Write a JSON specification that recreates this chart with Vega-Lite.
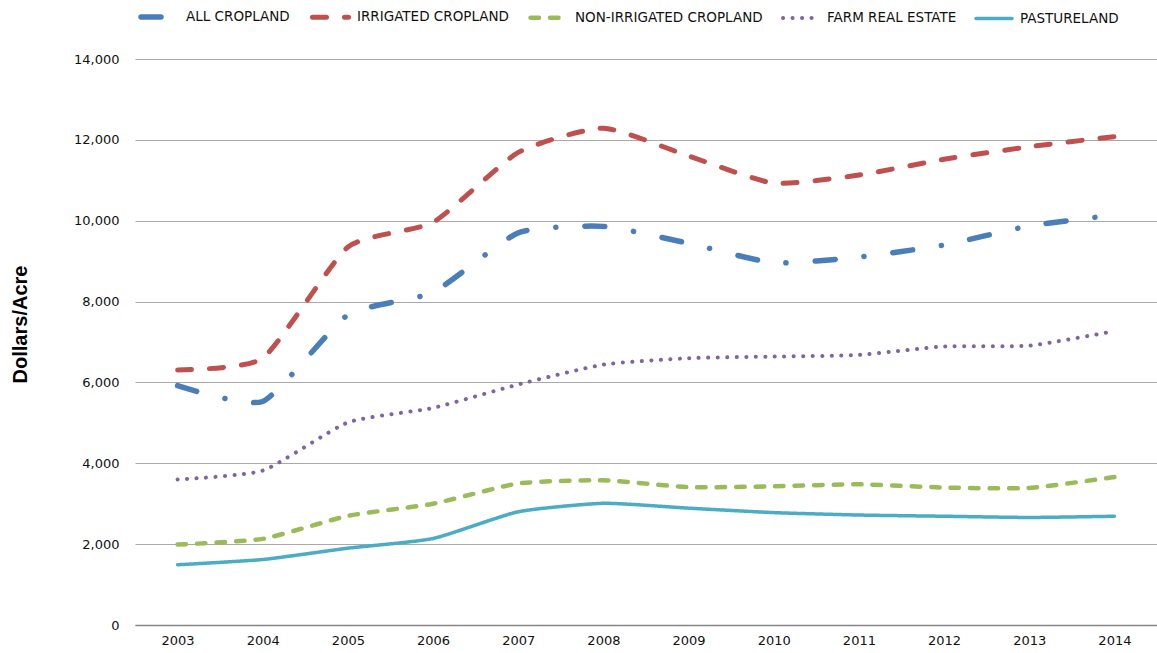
{
  "$schema": "https://vega.github.io/schema/vega-lite/v6.json",
  "autosize": "none",
  "width": 1022,
  "height": 566,
  "padding": {"left": 135, "top": 59, "right": 0, "bottom": 28},
  "background": "white",
  "config": {
    "view": {"stroke": null},
    "font": "DejaVu Sans"
  },
  "data": {
    "values": [
      {"year": "2003", "series": "ALL CROPLAND", "value": 5920},
      {"year": "2004", "series": "ALL CROPLAND", "value": 5530},
      {"year": "2005", "series": "ALL CROPLAND", "value": 7670},
      {"year": "2006", "series": "ALL CROPLAND", "value": 8230},
      {"year": "2007", "series": "ALL CROPLAND", "value": 9700},
      {"year": "2008", "series": "ALL CROPLAND", "value": 9860},
      {"year": "2009", "series": "ALL CROPLAND", "value": 9440},
      {"year": "2010", "series": "ALL CROPLAND", "value": 8960},
      {"year": "2011", "series": "ALL CROPLAND", "value": 9100},
      {"year": "2012", "series": "ALL CROPLAND", "value": 9400},
      {"year": "2013", "series": "ALL CROPLAND", "value": 9870},
      {"year": "2014", "series": "ALL CROPLAND", "value": 10140},
      {"year": "2003", "series": "IRRIGATED CROPLAND", "value": 6310},
      {"year": "2004", "series": "IRRIGATED CROPLAND", "value": 6600},
      {"year": "2005", "series": "IRRIGATED CROPLAND", "value": 9350},
      {"year": "2006", "series": "IRRIGATED CROPLAND", "value": 9960},
      {"year": "2007", "series": "IRRIGATED CROPLAND", "value": 11690},
      {"year": "2008", "series": "IRRIGATED CROPLAND", "value": 12290},
      {"year": "2009", "series": "IRRIGATED CROPLAND", "value": 11600},
      {"year": "2010", "series": "IRRIGATED CROPLAND", "value": 10930},
      {"year": "2011", "series": "IRRIGATED CROPLAND", "value": 11130},
      {"year": "2012", "series": "IRRIGATED CROPLAND", "value": 11520},
      {"year": "2013", "series": "IRRIGATED CROPLAND", "value": 11830},
      {"year": "2014", "series": "IRRIGATED CROPLAND", "value": 12080},
      {"year": "2003", "series": "NON-IRRIGATED CROPLAND", "value": 1990},
      {"year": "2004", "series": "NON-IRRIGATED CROPLAND", "value": 2130},
      {"year": "2005", "series": "NON-IRRIGATED CROPLAND", "value": 2700},
      {"year": "2006", "series": "NON-IRRIGATED CROPLAND", "value": 3000},
      {"year": "2007", "series": "NON-IRRIGATED CROPLAND", "value": 3500},
      {"year": "2008", "series": "NON-IRRIGATED CROPLAND", "value": 3580},
      {"year": "2009", "series": "NON-IRRIGATED CROPLAND", "value": 3410},
      {"year": "2010", "series": "NON-IRRIGATED CROPLAND", "value": 3430},
      {"year": "2011", "series": "NON-IRRIGATED CROPLAND", "value": 3480},
      {"year": "2012", "series": "NON-IRRIGATED CROPLAND", "value": 3400},
      {"year": "2013", "series": "NON-IRRIGATED CROPLAND", "value": 3390},
      {"year": "2014", "series": "NON-IRRIGATED CROPLAND", "value": 3660},
      {"year": "2003", "series": "FARM REAL ESTATE", "value": 3600},
      {"year": "2004", "series": "FARM REAL ESTATE", "value": 3820},
      {"year": "2005", "series": "FARM REAL ESTATE", "value": 5010},
      {"year": "2006", "series": "FARM REAL ESTATE", "value": 5370},
      {"year": "2007", "series": "FARM REAL ESTATE", "value": 5950},
      {"year": "2008", "series": "FARM REAL ESTATE", "value": 6440},
      {"year": "2009", "series": "FARM REAL ESTATE", "value": 6600},
      {"year": "2010", "series": "FARM REAL ESTATE", "value": 6640},
      {"year": "2011", "series": "FARM REAL ESTATE", "value": 6680},
      {"year": "2012", "series": "FARM REAL ESTATE", "value": 6890},
      {"year": "2013", "series": "FARM REAL ESTATE", "value": 6910},
      {"year": "2014", "series": "FARM REAL ESTATE", "value": 7270},
      {"year": "2003", "series": "PASTURELAND", "value": 1490},
      {"year": "2004", "series": "PASTURELAND", "value": 1620},
      {"year": "2005", "series": "PASTURELAND", "value": 1900},
      {"year": "2006", "series": "PASTURELAND", "value": 2140},
      {"year": "2007", "series": "PASTURELAND", "value": 2800},
      {"year": "2008", "series": "PASTURELAND", "value": 3010},
      {"year": "2009", "series": "PASTURELAND", "value": 2890},
      {"year": "2010", "series": "PASTURELAND", "value": 2780},
      {"year": "2011", "series": "PASTURELAND", "value": 2720},
      {"year": "2012", "series": "PASTURELAND", "value": 2690},
      {"year": "2013", "series": "PASTURELAND", "value": 2660},
      {"year": "2014", "series": "PASTURELAND", "value": 2690}
    ]
  },
  "mark": {"type": "line", "interpolate": "cardinal", "tension": 0.45, "strokeCap": "round", "strokeJoin": "round"},
  "encoding": {
    "x": {
      "field": "year",
      "type": "ordinal",
      "scale": {"type": "point", "padding": 0.5},
      "axis": {
        "title": null,
        "labelAngle": 0,
        "ticks": false,
        "grid": false,
        "domain": true,
        "domainColor": "#868686",
        "domainWidth": 1.5,
        "labelFont": "DejaVu Sans",
        "labelFontSize": 13,
        "labelColor": "#111111",
        "labelPadding": 9
      }
    },
    "y": {
      "field": "value",
      "type": "quantitative",
      "scale": {"domain": [0, 14000], "nice": false},
      "axis": {
        "title": "Dollars/Acre",
        "titleFont": "Liberation Sans",
        "titleFontSize": 20,
        "titleFontWeight": "bold",
        "titleColor": "#000000",
        "titleX": -115,
        "titleY": 265,
        "titleAlign": "center",
        "titleBaseline": "middle",
        "titleAngle": -90,
        "values": [0, 2000, 4000, 6000, 8000, 10000, 12000, 14000],
        "format": ",d",
        "domain": false,
        "ticks": false,
        "grid": true,
        "gridColor": "#A9A9A9",
        "gridWidth": 1,
        "labelFont": "DejaVu Sans",
        "labelFontSize": 13,
        "labelColor": "#111111",
        "labelPadding": 16
      }
    },
    "color": {
      "field": "series",
      "type": "nominal",
      "scale": {
        "domain": ["ALL CROPLAND", "IRRIGATED CROPLAND", "NON-IRRIGATED CROPLAND", "FARM REAL ESTATE", "PASTURELAND"],
        "range": ["#4A7EBB", "#C0504D", "#9BBB59", "#8064A2", "#4BACC6"]
      },
      "legend": {
        "title": null,
        "orient": "none",
        "direction": "horizontal",
        "legendX": 3,
        "legendY": -63,
        "symbolType": "stroke",
        "symbolSize": 1296,
        "labelOffset": 6,
        "labelLimit": 400,
        "columnPadding": 12,
        "labelFont": "DejaVu Sans",
        "labelFontSize": 13.5,
        "labelColor": "#111111",
        "encode": {
          "symbols": {"update": {"strokeCap": {"value": "round"}}}
        }
      }
    },
    "strokeDash": {
      "field": "series",
      "type": "nominal",
      "scale": {
        "domain": ["ALL CROPLAND", "IRRIGATED CROPLAND", "NON-IRRIGATED CROPLAND", "FARM REAL ESTATE", "PASTURELAND"],
        "range": [[20, 29, 0.1, 29], [14, 18], [8.5, 11], [0.1, 9.4], [1, 0]]
      }
    },
    "strokeWidth": {
      "field": "series",
      "type": "nominal",
      "scale": {
        "domain": ["ALL CROPLAND", "IRRIGATED CROPLAND", "NON-IRRIGATED CROPLAND", "FARM REAL ESTATE", "PASTURELAND"],
        "range": [5.5, 3.5, 4.5, 3, 4]
      }
    }
  }
}
